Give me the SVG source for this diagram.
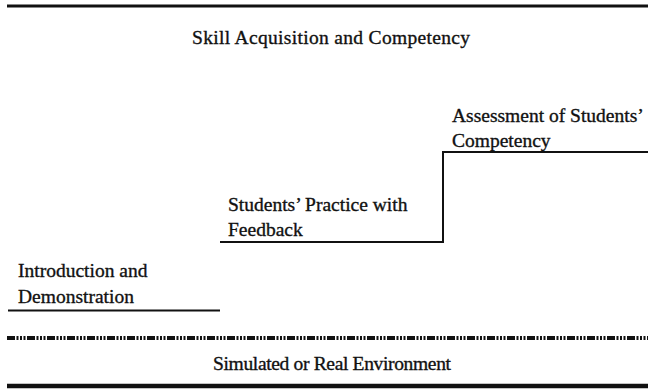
<svg xmlns="http://www.w3.org/2000/svg" width="648" height="390" viewBox="0 0 648 390">
<style>
text{font-family:"Liberation Serif","Times New Roman",serif;font-size:19.5px;fill:#111;stroke:#111;stroke-width:0.35}
.ln{stroke:#111;fill:none}
</style>
<rect width="648" height="390" fill="#fff"/>
<g id="frame">
<line class="ln" x1="7" y1="6" x2="648" y2="6" stroke-width="3"/>
<line class="ln" x1="7" y1="338" x2="648" y2="338" stroke-width="4" stroke-dasharray="8 1.5 2 1.5 2 1.5 2 1.5"/>
<line class="ln" x1="7" y1="386" x2="648" y2="386" stroke-width="4.5"/>
</g>
<g id="title"><text x="331" y="44" text-anchor="middle" textLength="278">Skill Acquisition and Competency</text></g>
<g id="environment"><text x="332" y="370" text-anchor="middle" textLength="238">Simulated or Real Environment</text></g>
<g id="connectors">
<polyline class="ln" stroke-width="2" points="8,310.5 220,310.5"/>
<polyline class="ln" stroke-width="2" points="220,242 443,242 443,152 648,152"/>
</g>
<g id="step1">
<text x="18" y="277">Introduction and</text>
<text x="18" y="303">Demonstration</text>
</g>
<g id="step2">
<text x="228" y="211">Students’ Practice with</text>
<text x="228" y="236">Feedback</text>
</g>
<g id="step3">
<text x="452" y="122">Assessment of Students’</text>
<text x="452" y="147">Competency</text>
</g>
</svg>
